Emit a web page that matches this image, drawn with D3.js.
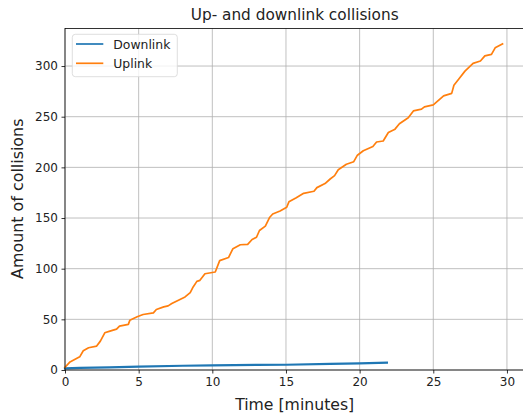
<!DOCTYPE html>
<html>
<head>
<meta charset="utf-8">
<script src="https://cdn.jsdelivr.net/npm/d3@7"></script>
<style>
  html, body { margin: 0; padding: 0; background: #fff; }
  svg { display: block; font-family: "DejaVu Sans", sans-serif; }
</style>
</head>
<body>
<svg id="chart" width="523" height="418"></svg>
<script>
// Cumulative collision counts over time (minutes)
const uplinkTime = [0, 0.34, 1.0, 1.24, 1.6, 2.15, 2.4, 2.7, 3.05, 3.5, 3.7, 4.3, 4.4, 4.9, 5.3, 6.0, 6.2, 6.7, 7.0, 7.25, 7.7, 8.15, 8.5, 8.7, 8.95, 9.16, 9.5, 10.2, 10.5, 11.1, 11.4, 11.9, 12.4, 12.7, 13.0, 13.2, 13.6, 13.9, 14.1, 14.6, 15.05, 15.2, 15.7, 16.2, 16.9, 17.1, 17.65, 18.0, 18.3, 18.55, 19.1, 19.6, 19.85, 20.25, 20.9, 21.15, 21.6, 21.95, 22.4, 22.7, 23.3, 23.65, 24.2, 24.4, 25.0, 25.7, 26.25, 26.4, 26.8, 27.15, 27.7, 28.2, 28.5, 28.95, 29.2, 29.7];
const uplinkCount = [2.6, 8, 13, 19, 22, 23.6, 28.5, 36.7, 38.4, 40.3, 43.3, 45, 49, 52.5, 54.8, 56.4, 59.7, 62.3, 63.3, 65.6, 68.9, 72.1, 76.4, 82, 87.5, 88.5, 95, 96.7, 108, 111, 119.7, 123.6, 124, 128.8, 131, 137.7, 142, 150.8, 154, 157, 160.6, 166, 170, 174.4, 176.4, 180, 184, 188.5, 191.8, 197.7, 203, 205.6, 212, 216.4, 220.6, 225, 226, 234.4, 237.7, 243, 249, 255.7, 257.4, 259.7, 261.6, 270.5, 273, 281, 288.5, 295, 302.6, 305, 310, 311.5, 318, 321.9];
const downlinkTime = [0, 1, 3, 5, 8, 10, 13, 15, 18, 20, 21.85];
const downlinkCount = [1.6, 2.0, 2.6, 3.3, 4.2, 4.6, 5.0, 5.2, 6.0, 6.6, 7.2];

const xTicks = [0, 5, 10, 15, 20, 25, 30];
const yTicks = [0, 50, 100, 150, 200, 250, 300];

const seriesNames = ["Downlink", "Uplink"];
const seriesColors = ["#1f77b4", "#ff7f0e"];

const svg = d3.select("#chart");
const plotLeft = 65, plotRight = 524.4, plotTop = 28.5, plotBottom = 370;

const x = d3.scaleLinear().domain([0, 31.185]).range([plotLeft, plotRight]);
const y = d3.scaleLinear().domain([0, 337.05]).range([plotBottom, plotTop]);

// grid
const grid = svg.append("g").attr("stroke", "#b0b0b0").attr("stroke-width", 0.8);
grid.selectAll("line.gx").data(xTicks).join("line").attr("class", "gx")
  .attr("x1", d => x(d)).attr("x2", d => x(d)).attr("y1", plotTop).attr("y2", plotBottom);
grid.selectAll("line.gy").data(yTicks).join("line").attr("class", "gy")
  .attr("x1", plotLeft).attr("x2", plotRight).attr("y1", d => y(d)).attr("y2", d => y(d));

// series
const series = [
  { name: seriesNames[0], color: seriesColors[0], pts: downlinkTime.map((t, i) => [t, downlinkCount[i]]) },
  { name: seriesNames[1], color: seriesColors[1], pts: uplinkTime.map((t, i) => [t, uplinkCount[i]]) }
];
const line = d3.line().x(d => x(d[0])).y(d => y(d[1]));
svg.append("g").selectAll("path").data(series).join("path")
  .attr("d", d => line(d.pts))
  .attr("fill", "none")
  .attr("stroke", d => d.color)
  .attr("stroke-width", (d, i) => i === 0 ? 2.2 : 1.7)
  .attr("stroke-linejoin", "round")
  .attr("stroke-linecap", "square");

// axes
const xAxis = d3.axisBottom(x).tickValues(xTicks).tickSize(3.5).tickPadding(3.5).tickFormat(d3.format("d"));
const yAxis = d3.axisLeft(y).tickValues(yTicks).tickSize(3.5).tickPadding(3.5).tickFormat(d3.format("d"));

const gx = svg.append("g").attr("transform", `translate(0,${plotBottom})`).call(xAxis);
const gy = svg.append("g").attr("transform", `translate(${plotLeft},0)`).call(yAxis);
[gx, gy].forEach(g => {
  g.select(".domain").remove();
  g.selectAll(".tick line").attr("stroke", "#000").attr("stroke-width", 0.8);
  g.selectAll(".tick text").attr("fill", "#222").attr("font-size", 12).attr("font-family", "DejaVu Sans, sans-serif");
});

// spines
svg.append("rect").attr("x", plotLeft).attr("y", plotTop)
  .attr("width", plotRight - plotLeft).attr("height", plotBottom - plotTop)
  .attr("stroke", "#000").attr("stroke-width", 0.8).attr("fill", "none");

// labels
svg.append("text").attr("x", (plotLeft + plotRight) / 2).attr("y", 19.5)
  .attr("text-anchor", "middle").attr("font-size", 15.3).attr("fill", "#222")
  .text("Up- and downlink collisions");
svg.append("text").attr("x", (plotLeft + plotRight) / 2).attr("y", 410)
  .attr("text-anchor", "middle").attr("font-size", 15.7).attr("fill", "#222")
  .text("Time [minutes]");
svg.append("text").attr("transform", `translate(22.5,${(plotTop + plotBottom) / 2 - 0.5}) rotate(-90)`)
  .attr("text-anchor", "middle").attr("font-size", 15.9).attr("fill", "#222")
  .text("Amount of collisions");

// legend
const lg = svg.append("g");
lg.append("rect").attr("x", 72.3).attr("y", 34.3).attr("width", 105).attr("height", 42.4)
  .attr("rx", 3).attr("fill", "#fff").attr("fill-opacity", 0.8).attr("stroke", "#d6d6d6").attr("stroke-width", 0.8);
series.forEach((s, i) => {
  const yy = 44 + i * 19.3;
  lg.append("line").attr("x1", 76).attr("x2", 103.3).attr("y1", yy).attr("y2", yy)
    .attr("stroke", s.color).attr("stroke-width", 1.7);
  lg.append("text").attr("x", 113.3).attr("y", yy + 4.6).attr("font-size", 12.4).attr("fill", "#222").text(s.name);
});
</script>
</body>
</html>
